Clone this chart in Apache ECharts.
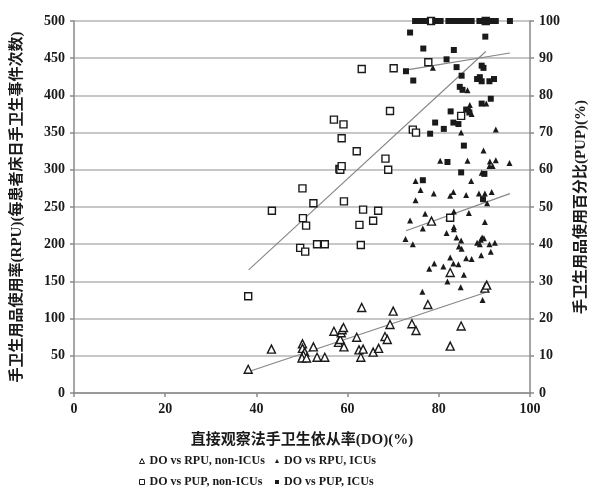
<!DOCTYPE html>
<html><head><meta charset="utf-8">
<script src="https://cdn.jsdelivr.net/npm/echarts@6/dist/echarts.min.js"></script>
<style>html,body{margin:0;padding:0;background:#fff}#c{width:600px;height:491px}</style>
</head><body><div id="c"></div>
<script>
// ---- data ----
const xTicks = [0, 20, 40, 60, 80, 100];
const leftTicks = [0, 50, 100, 150, 200, 250, 300, 350, 400, 450, 500];
const rightTicks = [0, 10, 20, 30, 40, 50, 60, 70, 80, 90, 100];

const seriesNames = ['DO vs RPU, non-ICUs', 'DO vs RPU, ICUs', 'DO vs PUP, non-ICUs', 'DO vs PUP, ICUs'];

const rpuNonIcu = [[38.2,32],[43.3,59],[50.1,66],[50.1,60],[50.6,55],[50.3,51],[50.0,47],[51.0,47],[52.5,62],[53.3,48],[55.0,48],[57.0,83],[58.0,68],[58.4,72],[58.6,81],[58.8,85],[59.1,88],[59.2,62],[62.0,75],[62.5,58],[62.9,48],[63.1,115],[63.4,59],[65.6,55],[66.8,60],[68.2,76],[68.7,72],[69.3,92],[70.0,110],[74.1,93],[75.0,84],[77.6,119],[78.4,231],[82.5,162],[82.5,63],[84.9,90],[90.1,141],[90.5,145]];

const rpuIcu = [[78.7,437],[86.3,407],[86.8,387],[86.7,382],[87.2,375],[90.4,389],[92.5,354],[84.9,350],
[89.8,326],[80.3,312],[86.3,312],[91.2,311],[92.5,313],[95.5,309],[91.1,305],[91.8,305],[89.4,296],
[74.9,285],[87.1,285],[76.0,273],[78.9,268],[83.2,270],[82.5,265],[86.0,266],[88.8,268],[90.1,268],[91.6,270],[74.9,259],[90.6,255],
[73.7,232],[77.0,241],[82.1,236],[83.3,244],[86.6,242],[76.5,221],[83.3,223],[83.3,220],[81.7,215],[90.1,230],
[72.7,207],[74.3,200],[83.9,209],[84.9,205],[84.4,197],[85.0,194],[88.4,202],[89.2,206],[89.5,209],[89.9,208],[89.0,200],[91.1,200],[92.3,202],
[91.4,190],[89.3,185],[82.5,182],[86.0,181],[87.2,180],[79.0,174],[83.2,174],[84.3,173],[77.9,167],[81.0,170],[85.5,159],[81.9,150],[84.8,142],[76.4,136],[89.6,125]];

const pupNonIcu = [[38.2,26],[43.4,49],[49.6,39],[50.1,55],[50.2,47],[50.7,38],[50.9,45],[52.5,51],[53.3,40],[55.0,40],[57.0,73.5],[58.2,60.2],[58.4,60],[58.7,61],[58.7,68.5],[59.1,72.2],[59.2,51.5],[62.0,65],[62.6,45.2],[62.9,39.8],[63.1,87.1],[63.4,49.3],[65.6,46.3],[66.7,49],[68.3,63],[68.9,60],[69.3,75.8],[70.1,87.3],[74.3,70.8],[75.0,70],[77.7,88.9],[82.5,47.1],[84.9,74.5],[78.3,100],[90.3,100]];

const pupIcuFullX = [74.8,75.7,76.4,77.2,79.2,80.4,82.1,82.6,83.0,84.1,84.8,85.5,86.2,87.2,88.9,89.6,90.1,91.1,91.8,92.5,95.6];
const pupIcuFullY = [100,100,100,100,100,100,100,100,100,100,100,100,100,100,100,100,100,100,100,100,100];
const pupIcuRest = [[73.7,96.9],[90.2,95.8],[76.6,92.6],[83.3,92.2],[81.7,89.7],[83.9,87.6],[72.8,86.5],[74.4,84.0],[85.0,85.3],[89.4,88.0],[89.8,87.4],[88.4,84.4],[89.0,84.9],[89.4,83.8],[91.1,83.8],[92.1,84.4],[84.6,82.3],[85.2,81.5],[91.4,79.1],[89.4,77.8],[82.6,75.7],[86.0,76.2],[86.7,75.4],[79.2,72.7],[83.2,72.7],[84.3,72.3],[81.1,71.0],[78.1,69.7],[85.5,66.5],[81.9,62.1],[84.9,59.3],[90.0,58.9],[76.5,57.2],[89.7,52.1]];

// fitted trend lines (endpoints)
const fitRpuNon = [[38.2,28.6],[90.4,135.5]];
const fitRpuIcu = [[72.8,218],[95.6,268]];
const fitPupNon = [[38.3,33.1],[90.3,91.8]];
const fitPupIcu = [[72.7,86.8],[95.6,91.4]];

// ---- chart ----
const pupIcu = pupIcuFullX.map((x,i)=>[x,pupIcuFullY[i]]).concat(pupIcuRest);
const FONT = '"Liberation Serif","Noto Sans CJK SC",serif';
const INK = '#1a1a1a';
const chart = echarts.init(document.getElementById('c'), null, {renderer:'canvas'});

const axisLine = {show:true, lineStyle:{color:'#8a8a8a', width:1.5}};
const axisTick = {show:true, inside:false, length:4, lineStyle:{color:'#8a8a8a', width:1.5}};
const axisLabel = {color:INK, fontFamily:FONT, fontWeight:'bold', fontSize:14};

function legendAt(name, left, top, iconSize){
  return {data:[name], left:left, top:top, orient:'horizontal', itemWidth:iconSize, itemHeight:iconSize, itemGap:0,
    padding:0, selectedMode:false,
    itemStyle:{borderWidth:1},
    textStyle:{color:INK, fontFamily:FONT, fontWeight:'bold', fontSize:12, padding:[0,0,0,0]}};
}

function trend(data, axisIdx){
  return {type:'line', data:data, yAxisIndex:axisIdx, symbol:'none', silent:true,
    lineStyle:{color:'#858585', width:1.1}, z:1, animation:false};
}

chart.setOption({
  animation:false,
  backgroundColor:'#fff',
  grid:{left:74, right:70, top:21, bottom:98, containLabel:false},
  legend:[
    legendAt(seriesNames[0], 139, 455, 5),
    legendAt(seriesNames[1], 275, 455, 4),
    legendAt(seriesNames[2], 139, 476, 5),
    legendAt(seriesNames[3], 275, 476, 4)
  ],
  xAxis:{type:'value', min:0, max:100, interval:20,
    name:'直接观察法手卫生依从率(DO)(%)', nameLocation:'middle', nameGap:40,
    nameTextStyle:{color:INK, fontFamily:FONT, fontWeight:'bold', fontSize:15},
    axisLine:axisLine, axisTick:axisTick, splitLine:{show:false},
    axisLabel:Object.assign({margin:9}, axisLabel)},
  yAxis:[
    {type:'value', min:0, max:500, interval:50, position:'left',
      name:'手卫生用品使用率(RPU)(每患者床日手卫生事件次数)', nameLocation:'middle', nameGap:49, nameRotate:90,
      nameTextStyle:{color:INK, fontFamily:FONT, fontWeight:'bold', fontSize:15},
      axisLine:axisLine, axisTick:axisTick,
      splitLine:{show:true, lineStyle:{color:'#b5b5b5', width:1.5}},
      axisLabel:Object.assign({margin:9}, axisLabel)},
    {type:'value', min:0, max:100, interval:10, position:'right',
      name:'手卫生用品使用百分比(PUP)(%)', nameLocation:'middle', nameGap:44, nameRotate:90,
      nameTextStyle:{color:INK, fontFamily:FONT, fontWeight:'bold', fontSize:15},
      axisLine:axisLine, axisTick:axisTick, splitLine:{show:false},
      axisLabel:Object.assign({margin:9}, axisLabel)}
  ],
  series:[
    trend(fitRpuNon,0), trend(fitRpuIcu,0), trend(fitPupNon,1), trend(fitPupIcu,1),
    {name:seriesNames[0], type:'scatter', yAxisIndex:0, data:rpuNonIcu, symbol:'triangle', symbolSize:8,
      itemStyle:{color:'#fff', borderColor:INK, borderWidth:1.4, opacity:1}, z:3},
    {name:seriesNames[1], type:'scatter', yAxisIndex:0, data:rpuIcu, symbol:'triangle', symbolSize:6,
      itemStyle:{color:INK, opacity:1}, z:3},
    {name:seriesNames[2], type:'scatter', yAxisIndex:1, data:pupNonIcu, symbol:'rect', symbolSize:7,
      itemStyle:{color:'#fff', borderColor:INK, borderWidth:1.4, opacity:1}, z:3},
    {name:seriesNames[3], type:'scatter', yAxisIndex:1, data:pupIcu, symbol:'rect', symbolSize:6,
      itemStyle:{color:INK, opacity:1}, z:3}
  ]
});
</script>
</body></html>
